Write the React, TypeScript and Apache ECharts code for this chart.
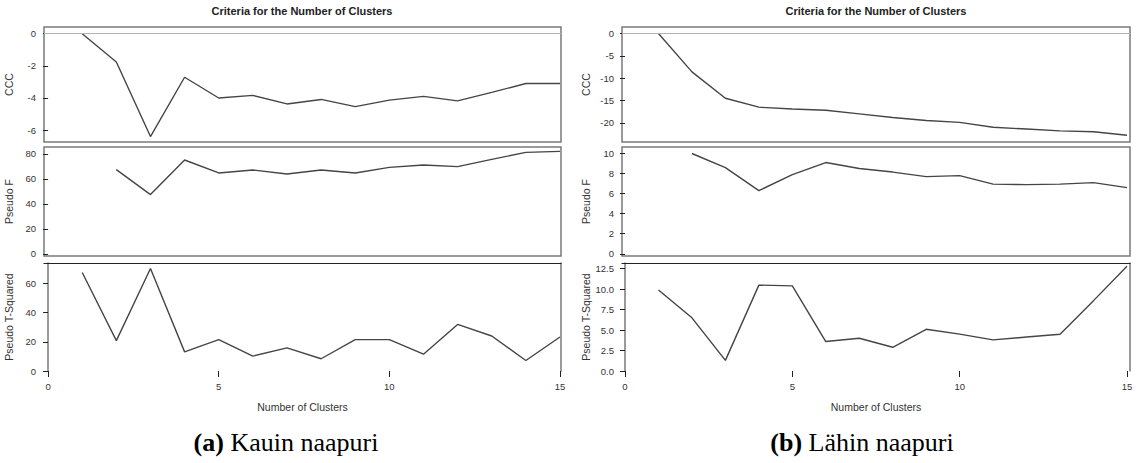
import React, { useEffect, useRef } from "react";
import * as echarts from "echarts";

// ---------- data ----------
const clusters = [1, 2, 3, 4, 5, 6, 7, 8, 9, 10, 11, 12, 13, 14, 15];

// (a) Kauin naapuri
const cccA = [0, -1.76, -6.4, -2.71, -4.0, -3.84, -4.37, -4.09, -4.54, -4.13, -3.9, -4.18, -3.65, -3.1, -3.1];
const pseudoFA = [null, 67.5, 47.5, 75.2, 64.8, 67.2, 64.0, 67.2, 64.8, 69.3, 71.2, 69.9, 75.7, 81.3, 82.1];
const pseudoT2A = [67.5, 20.8, 70.2, 13.1, 21.5, 10.2, 15.8, 8.4, 21.5, 21.5, 11.5, 31.9, 24.0, 7.2, 23.3];

// (b) Lähin naapuri
const cccB = [0, -8.6, -14.5, -16.5, -16.9, -17.2, -18.0, -18.8, -19.5, -19.9, -21.0, -21.4, -21.8, -22.0, -22.8];
const pseudoFB = [null, 10.0, 8.6, 6.3, 7.9, 9.1, 8.5, 8.15, 7.7, 7.8, 6.95, 6.9, 6.95, 7.1, 6.6];
const pseudoT2B = [9.9, 6.5, 1.3, 10.5, 10.4, 3.6, 4.0, 2.9, 5.1, 4.5, 3.8, 4.15, 4.5, 8.6, 12.8];

// tick labels
const xTicks = [0, 5, 10, 15];
const cccTicksA = [0, -2, -4, -6];
const fTicksA = [0, 20, 40, 60, 80];
const t2TicksA = [0, 20, 40, 60];
const cccTicksB = [0, -5, -10, -15, -20];
const fTicksB = [0, 2, 4, 6, 8, 10];
const t2TicksB = [0, 2.5, 5, 7.5, 10, 12.5];

const rowNames = ["CCC", "Pseudo F", "Pseudo T-Squared"];
const chartTitle = "Criteria for the Number of Clusters";
const xName = "Number of Clusters";
const captions = [
  { tag: "(a)", text: " Kauin naapuri" },
  { tag: "(b)", text: " Lähin naapuri" },
];

// ---------- layout ----------
const FONT = "Liberation Sans";
const TEXT = "#333333";
const FRAME = "#7a7a7a";
const LINE = "#454545";

const sides = [
  { left: 44, width: 517, xMin: -0.12, xMax: 15.03, titleX: 302, capX: 286 },
  { left: 622, width: 508, xMin: -0.09, xMax: 15.09, titleX: 876, capX: 862 },
];
const rows = [
  { top: 27, height: 115 },
  { top: 147, height: 109 },
  { top: 263, height: 108 },
];

const panelData = [
  [
    { values: cccA, ticks: cccTicksA, min: -6.74, max: 0.42, fmt: (v: number) => String(v) },
    { values: pseudoFA, ticks: fTicksA, min: -1.7, max: 85.6, fmt: (v: number) => String(v) },
    { values: pseudoT2A, ticks: t2TicksA, min: 0, max: 74, fmt: (v: number) => String(v) },
  ],
  [
    { values: cccB, ticks: cccTicksB, min: -24.3, max: 1.45, fmt: (v: number) => String(v) },
    { values: pseudoFB, ticks: fTicksB, min: -0.22, max: 10.65, fmt: (v: number) => String(v) },
    { values: pseudoT2B, ticks: t2TicksB, min: 0, max: 13.2, fmt: (v: number) => v.toFixed(1) },
  ],
];

function buildOption() {
  const grid: any[] = [];
  const xAxis: any[] = [];
  const yAxis: any[] = [];
  const series: any[] = [];
  const graphic: any[] = [];

  sides.forEach((s, si) => {
    rows.forEach((r, ri) => {
      const gi = grid.length;
      const pd = panelData[si][ri];
      const bottomRow = ri === 2;
      grid.push({
        left: s.left,
        top: r.top,
        width: s.width,
        height: r.height,
        show: !bottomRow,
        borderColor: FRAME,
        borderWidth: 1.5,
        backgroundColor: "transparent",
      });
      const xi = xAxis.length;
      xAxis.push({
        type: "value",
        gridIndex: gi,
        min: s.xMin,
        max: s.xMax,
        show: true,
        position: "bottom",
        name: bottomRow ? xName : "",
        nameLocation: "middle",
        nameGap: 30,
        nameTextStyle: { fontFamily: FONT, fontSize: 10.5, color: TEXT },
        axisLine: { show: false },
        axisTick: {
          show: bottomRow,
          length: 6,
          inside: false,
          customValues: xTicks,
          lineStyle: { color: "#222", width: 1 },
        },
        axisLabel: {
          show: bottomRow,
          customValues: xTicks,
          margin: 10,
          fontFamily: FONT,
          fontSize: 9.5,
          color: TEXT,
        },
        splitLine: { show: false },
      });
      const yi = yAxis.length;
      yAxis.push({
        type: "value",
        gridIndex: gi,
        min: pd.min,
        max: pd.max,
        name: rowNames[ri],
        nameLocation: "middle",
        nameGap: si === 0 ? 30 : 31,
        nameTextStyle: { fontFamily: FONT, fontSize: 10.5, color: TEXT },
        axisLine: { show: bottomRow, lineStyle: { color: FRAME, width: 1.5 } },
        axisTick: {
          show: true,
          length: 5,
          inside: false,
          customValues: pd.ticks,
          lineStyle: { color: "#222", width: 1 },
        },
        axisLabel: {
          customValues: pd.ticks,
          formatter: (v: number) => pd.fmt(v),
          margin: 8,
          fontFamily: FONT,
          fontSize: 9.5,
          color: TEXT,
        },
        splitLine: { show: false },
      });
      if (bottomRow) {
        // top and right edges of the bottom panel's frame
        xAxis.push({
          type: "value",
          gridIndex: gi,
          min: s.xMin,
          max: s.xMax,
          position: "top",
          axisLine: { show: true, onZero: false, lineStyle: { color: "#222", width: 1.2 } },
          axisTick: { show: false },
          axisLabel: { show: false },
          splitLine: { show: false },
        });
        yAxis.push({
          type: "value",
          gridIndex: gi,
          min: pd.min,
          max: pd.max,
          position: "right",
          axisLine: { show: true, onZero: false, lineStyle: { color: FRAME, width: 1.5 } },
          axisTick: { show: false },
          axisLabel: { show: false },
          splitLine: { show: false },
        });
      }
      const data: any[] = [];
      clusters.forEach((c, k) => {
        const v = pd.values[k];
        if (v !== null && v !== undefined) data.push([c, v]);
      });
      const ser: any = {
        type: "line",
        xAxisIndex: xi,
        yAxisIndex: yi,
        data,
        showSymbol: false,
        symbol: "none",
        lineStyle: { color: LINE, width: 1.4 },
        itemStyle: { color: LINE },
        silent: true,
      };
      if (ri === 0) {
        ser.markLine = {
          silent: true,
          symbol: "none",
          label: { show: false },
          lineStyle: { color: "#b4b4b4", width: 1, type: "solid" },
          data: [{ yAxis: 0 }],
        };
      }
      series.push(ser);
    });

    graphic.push({
      type: "text",
      x: s.titleX,
      y: 11,
      style: {
        text: chartTitle,
        fontFamily: FONT,
        fontSize: 11,
        fontWeight: "bold",
        fill: "#222",
        align: "center",
        verticalAlign: "middle",
      },
    });
    graphic.push({
      type: "text",
      x: s.capX,
      y: 442,
      style: {
        text: "{b|" + captions[si].tag + "}" + captions[si].text,
        rich: {
          b: { fontFamily: "Liberation Serif", fontSize: 26, fontWeight: "bold", fill: "#000" },
        },
        fontFamily: "Liberation Serif",
        fontSize: 26,
        fill: "#000",
        align: "center",
        verticalAlign: "middle",
      },
    });
  });

  return {
    animation: false,
    backgroundColor: "#ffffff",
    grid,
    xAxis,
    yAxis,
    series,
    graphic,
  };
}

export default function App() {
  const ref = useRef<HTMLDivElement>(null);
  useEffect(() => {
    if (!ref.current) return;
    const chart = echarts.init(ref.current, null, { renderer: "svg" });
    chart.setOption(buildOption() as any);
    return () => chart.dispose();
  }, []);
  return (
    <div
      ref={ref}
      style={{ position: "fixed", left: 0, top: 0, width: 1139, height: 463, background: "#fff" }}
    />
  );
}
